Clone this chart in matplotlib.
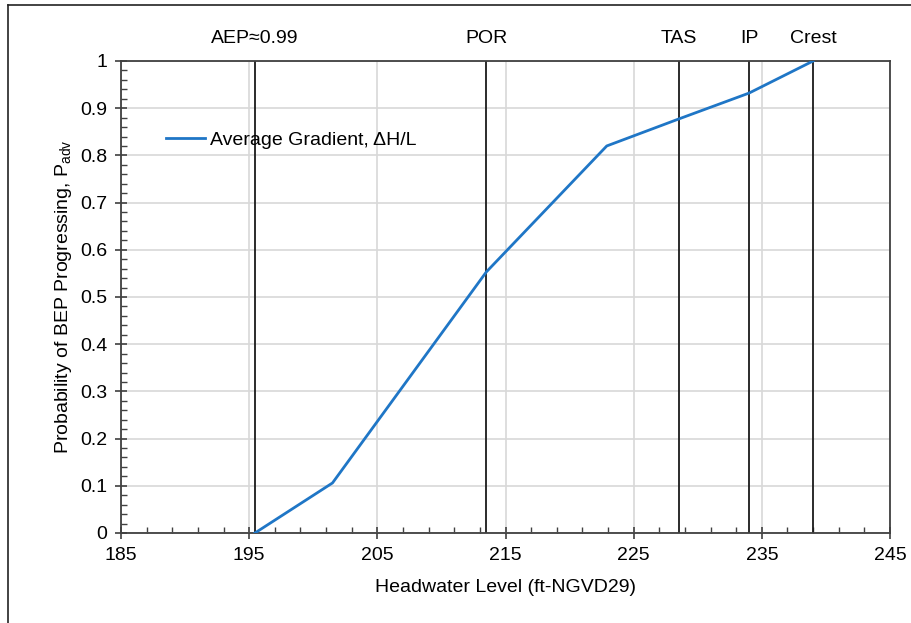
import matplotlib
matplotlib.use("Agg")
import matplotlib.pyplot as plt
from matplotlib.ticker import MultipleLocator
from matplotlib.transforms import blended_transform_factory
from matplotlib.lines import Line2D

plt.rcParams['font.family'] = ['Liberation Sans', 'DejaVu Sans']
plt.rcParams['mathtext.fontset'] = 'custom'
plt.rcParams['mathtext.rm'] = 'Liberation Sans'
plt.rcParams['mathtext.it'] = 'Liberation Sans'

# curve: headwater level vs probability
level = [195.45, 201.5, 213.5, 222.9, 228.5, 234.0, 239.0]
prob = [0.0, 0.106, 0.553, 0.82, 0.877, 0.932, 1.0]

# reference levels
ref_names = ["AEP≈0.99", "POR", "TAS", "IP", "Crest"]
ref_levels = [195.45, 213.5, 228.5, 234.0, 239.0]

x_ticks = [185, 195, 205, 215, 225, 235, 245]
y_ticks = [0, 0.1, 0.2, 0.3, 0.4, 0.5, 0.6, 0.7, 0.8, 0.9, 1]
y_labels = ["0", "0.1", "0.2", "0.3", "0.4", "0.5", "0.6", "0.7", "0.8", "0.9", "1"]

fs = 14

fig = plt.figure(figsize=(9.12, 6.23), dpi=100)
ax = fig.add_axes([0.1327, 0.1445, 0.8432, 0.7576])

ax.set_xlim(185, 245)
ax.set_ylim(0, 1)
ax.set_xticks(x_ticks)
ax.xaxis.set_minor_locator(MultipleLocator(2, offset=1))
ax.set_yticks(y_ticks)
ax.set_yticklabels(y_labels)
ax.yaxis.set_minor_locator(MultipleLocator(0.02))

ax.grid(True, which='major', color='#d8d8d8', lw=1.2)
ax.set_axisbelow(True)

for s in ax.spines.values():
    s.set_color('#404040')
    s.set_linewidth(1.3)

ax.tick_params(which='major', direction='inout', length=8, width=1.2, color='#404040',
               labelsize=fs, pad=6)
ax.tick_params(which='minor', direction='in', length=4, width=1.0, color='#404040')

trans = blended_transform_factory(ax.transData, ax.transAxes)
for name, x in zip(ref_names, ref_levels):
    ax.axvline(x, color='#1a1a1a', lw=1.3, zorder=2)
    ax.text(x, 1.047, name, transform=trans, ha='center', va='center', fontsize=fs)

ax.plot(level, prob, color='#1f76c6', lw=2.0, zorder=3, label='Average Gradient, ΔH/L')

ax.legend(loc='center left', bbox_to_anchor=(0.058, 0.833), frameon=False,
          fontsize=fs, handlelength=2.0, handletextpad=0.3, borderpad=0,
          borderaxespad=0)

ax.set_xlabel("Headwater Level (ft-NGVD29)", fontsize=fs, labelpad=11)
ax.set_ylabel("Probability of BEP Progressing, P$_{\\mathregular{adv}}$", fontsize=fs, labelpad=4)

# outer frame lines
fig.add_artist(Line2D([8 / 912, 8 / 912], [0, 1 - 5 / 623], transform=fig.transFigure,
                      color='#222222', lw=1.2))
fig.add_artist(Line2D([8 / 912, 1], [1 - 5 / 623, 1 - 5 / 623], transform=fig.transFigure,
                      color='#222222', lw=1.2))

fig.savefig("out.png", dpi=100)
